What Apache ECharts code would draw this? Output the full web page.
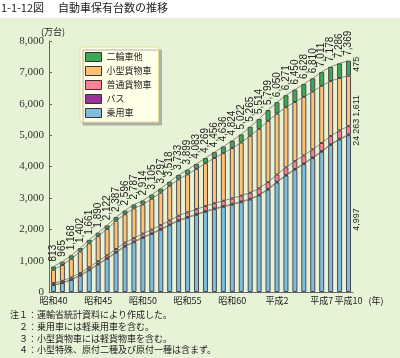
<!DOCTYPE html>
<html><head><meta charset="utf-8">
<script src="https://cdn.jsdelivr.net/npm/echarts@6/dist/echarts.min.js"></script>
<style>html,body{margin:0;padding:0;background:#fff}#c{width:400px;height:358px}</style>
</head><body><div id="c"></div>
<script>
const categories = ['昭和40','昭和41','昭和42','昭和43','昭和44','昭和45','昭和46','昭和47','昭和48','昭和49',
  '昭和50','昭和51','昭和52','昭和53','昭和54','昭和55','昭和56','昭和57','昭和58','昭和59',
  '昭和60','昭和61','昭和62','昭和63','平成元','平成2','平成3','平成4','平成5','平成6',
  '平成7','平成8','平成9','平成10'];
const shownTickIndex = [0,5,10,15,20,25,30,33];
const yTicks = [0,1000,2000,3000,4000,5000,6000,7000,8000];
const totals = [813,965,1168,1402,1661,1890,2122,2387,2596,2787,2914,3105,3297,3518,3733,3899,4083,4269,4456,4636,4824,5022,5265,5514,5799,6050,6271,6450,6628,6810,7011,7178,7286,7369];
const passenger = [219,284,384,521,693,878,1057,1253,1447,1585,1724,1848,1983,2128,2267,2366,2461,2554,2639,2714,2784,2865,2948,3078,3262,3492,3708,3896,4077,4268,4468,4687,4861,4997];
const bus = [10,11,13,15,17,19,20,21,21,22,22,22,23,23,23,23,23,23,23,23,23,23,23,23,24,24,24,24,24,24,24,24,24,24];
const ordinaryTruck = [55,60,66,72,79,86,92,98,105,110,114,119,125,132,141,150,156,161,166,170,176,183,192,203,215,229,240,247,251,254,257,259,261,263];
const smallTruck = [424,505,597,684,762,797,841,900,905,950,929,986,1036,1100,1157,1210,1283,1366,1443,1519,1606,1691,1817,1895,1953,1940,1919,1888,1866,1839,1822,1753,1675,1611];
const twoWheel = [105,105,108,110,110,110,112,115,118,120,125,130,130,135,145,150,160,165,185,210,235,260,285,315,345,365,380,395,410,425,440,455,465,475];

const seriesDefs = [
  {name:'乗用車', data:passenger, color:'#80BCE0', shift:-6},
  {name:'バス', data:bus, color:'#993399', shift:-6},
  {name:'普通貨物車', data:ordinaryTruck, color:'#FF8094', shift:4},
  {name:'小型貨物車', data:smallTruck, color:'#FFC078', shift:-5},
  {name:'二輪車他', data:twoWheel, color:'#3DA856', shift:4}
];
const fmt = v => String(v).replace(/\B(?=(\d{3})+(?!\d))/g, ',');
const labelFont = {fontFamily:'Liberation Sans', fontSize:10, color:'#222'};
const sideFont = {fontFamily:'Liberation Sans', fontSize:9, color:'#222'};

const series = [];
seriesDefs.forEach((s, si) => {
  const last = s.data.length - 1;
  series.push({
    name: s.name, type:'bar', stack:'total', barWidth:5, z:3,
    itemStyle:{color:s.color, borderColor:'#4a4a4a', borderWidth:1},
    data: s.data.map((v,i) => i === last ? {value:v, label:{show:true, position:'right', rotate:90, distance:5,
      align:'center', verticalAlign:'middle', offset:[s.shift,0], formatter: () => fmt(v), ...sideFont}} : v)
  });
});
seriesDefs.forEach((s, si) => {
  series.push({
    name: 'line'+si, type:'line', stack:'lines', z:1, silent:true,
    symbol:'circle', symbolSize:0.1, itemStyle:{color:'rgba(0,0,0,0)'},
    lineStyle:{color:'#8a8a7e', width:1},
    data: s.data,
    label: si === seriesDefs.length-1 ? {show:true, position:'top', rotate:90, distance:5,
      align:'left', verticalAlign:'middle', formatter: p => fmt(totals[p.dataIndex]), ...labelFont} : {show:false}
  });
});

const chart = echarts.init(document.getElementById('c'), null, {renderer:'canvas'});
chart.setOption({
  animation:false,
  backgroundColor:'#ffffff',
  graphic:[
    {type:'rect', left:0, top:18, shape:{width:400, height:340}, style:{fill:'#E6F3D6'}, z:-10},
    {type:'text', left:1, top:2, style:{text:'1-1-12図', font:'11px "Noto Sans CJK JP"', fill:'#222'}},
    {type:'text', left:58, top:2, style:{text:'自動車保有台数の推移', font:'11px "Noto Sans CJK JP"', fill:'#222'}},
    {type:'text', left:10, top:309, style:{text:'注１：運輸省統計資料により作成した。\n　２：乗用車には軽乗用車を含む。\n　３：小型貨物車には軽貨物車を含む。\n　４：小型特殊、原付二種及び原付一種は含まず。',
      font:'9px "Noto Sans CJK JP"', fill:'#222', lineHeight:11.7}}
  ],
  grid:{left:49, right:47, top:41, bottom:66},
  legend:{
    data:['二輪車他','小型貨物車','普通貨物車','バス','乗用車'],
    orient:'vertical', left:80, top:47, icon:'rect',
    itemWidth:16, itemHeight:9, itemGap:4,
    padding:[5,7,4,5],
    backgroundColor:'#FFFFE8', borderColor:'#E6DC9E', borderWidth:1,
    shadowColor:'#b0b0a8', shadowOffsetX:3, shadowOffsetY:3, shadowBlur:0,
    itemStyle:{borderColor:'#333', borderWidth:1},
    textStyle:{fontFamily:'Noto Sans CJK JP', fontSize:9, color:'#222', lineHeight:9}
  },
  xAxis:{
    type:'category', data:categories,
    name:'(年)', nameLocation:'end', nameGap:0,
    nameTextStyle:{fontFamily:'Noto Sans CJK JP', fontSize:9, color:'#222', align:'left', verticalAlign:'top', padding:[4,0,0,-7]},
    axisLine:{lineStyle:{color:'#666', width:1}},
    axisTick:{show:false},
    axisLabel:{interval: i => shownTickIndex.includes(i), margin:4, hideOverlap:false,
      fontFamily:'Noto Sans CJK JP', fontSize:9, color:'#222'}
  },
  yAxis:{
    type:'value', min:yTicks[0], max:yTicks[yTicks.length-1], interval:1000,
    name:'(万台)', nameLocation:'end', nameGap:5,
    nameTextStyle:{fontFamily:'Noto Sans CJK JP', fontSize:9, color:'#222', align:'left', padding:[0,0,0,-8]},
    axisLine:{show:true, lineStyle:{color:'#666', width:1}},
    axisTick:{show:true, inside:true, length:3, lineStyle:{color:'#666'}},
    splitLine:{show:false},
    axisLabel:{formatter: v => fmt(v), margin:5, fontFamily:'Liberation Serif', fontSize:11, color:'#333'}
  },
  series
});
</script></body></html>
